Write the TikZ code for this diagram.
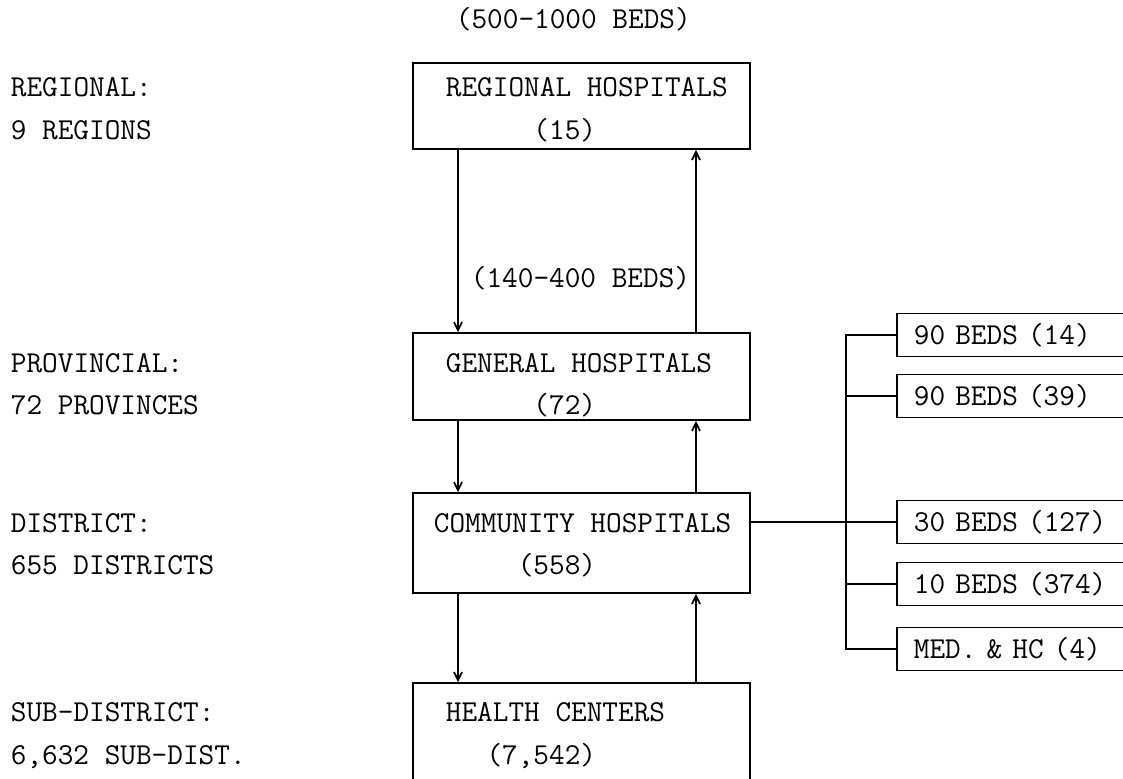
\documentclass[tikz,border=0pt]{standalone}
\usetikzlibrary{arrows.meta}
\begin{document}
\begin{tikzpicture}[x=0.5pt, y=-0.5pt, font=\fontsize{15.2}{18}\ttfamily,
      >={Straight Barb[length=4pt, width=4pt]}, line width=0.9pt,
      box/.style={draw, minimum width=168.5pt, inner sep=0pt},
      bed/.style={draw, anchor=west, minimum height=21.5pt, text width=110pt,
                  inner xsep=8.5pt, inner ysep=0pt, align=left},
      lft/.style={anchor=base west, inner sep=0pt},
      rgt/.style={anchor=base east, inner sep=0pt}]
    \useasboundingbox (0,0) rectangle (1123,778);
    \coordinate (dn) at (458,0); \coordinate (up) at (696,0); \coordinate (bus) at (846,0);
    % levels on the left
    \node[lft] (lreg) at (10,96) {REGIONAL:};
    \node[lft] (nreg) at (10,139) {9 REGIONS};
    \node[lft] (lprov) at (10,372) {PROVINCIAL:};
    \node[lft] (nprov) at (10,414) {72 PROVINCES};
    \node[lft] (ldist) at (10,532) {DISTRICT:};
    \node[lft] (ndist) at (10,574) {655 DISTRICTS};
    \node[lft] (lsub) at (10,721) {SUB-DISTRICT:};
    \node[lft] (nsub) at (10,764) {6,632 SUB-DIST.};
    % hospital chain
    \node[box, minimum height=43pt] (reg) at (581.5,106) {};
    \node[box, minimum height=43.5pt] (gen) at (581.5,376.5) {};
    \node[box, minimum height=50pt] (com) at (581.5,543) {};
    \node[box, minimum height=68.5pt] (hc) at (581.5,751.5) {};
    \node[lft] (bedsreg) at (455,28) {(500-1000 BEDS)};
    \node[lft] (treg) at (445,96) {REGIONAL HOSPITALS};
    \node[rgt] (creg) at (597,139) {(15)};
    \node[lft] (bedsgen) at (470,287) {(140-400 BEDS)};
    \node[lft] (tgen) at (445,372) {GENERAL HOSPITALS};
    \node[rgt] (cgen) at (597,414) {(72)};
    \node[lft] (tcom) at (433,532) {COMMUNITY HOSPITALS};
    \node[rgt] (ccom) at (597,574) {(558)};
    \node[lft] (thc) at (445,721) {HEALTH CENTERS};
    \node[rgt] (chc) at (597,764) {(7,542)};
    \draw[->] (reg.south -| dn) -- (gen.north -| dn); \draw[->] (gen.north -| up) -- (reg.south -| up);
    \draw[->] (gen.south -| dn) -- (com.north -| dn); \draw[->] (com.north -| up) -- (gen.south -| up);
    \draw[->] (com.south -| dn) -- (hc.north -| dn); \draw[->] (hc.north -| up) -- (com.south -| up);
    % community hospitals by size
    \node[bed] (b90a) at (896,335) {90 BEDS (14)};
    \node[bed] (b90b) at (896,396) {90 BEDS (39)};
    \node[bed] (b30) at (896,522) {30 BEDS (127)};
    \node[bed] (b10) at (896,584) {10 BEDS (374)};
    \node[bed] (bmed) at (896,649) {MED. \& HC (4)};
    \draw (b90a.west) -- (b90a.west -| bus) -- (bmed.west -| bus) -- (bmed.west);
    \draw (b90b.west) -- (b90b.west -| bus); \draw (b10.west) -- (b10.west -| bus);
    \draw (com.east |- b30.west) -- (b30.west);
\end{tikzpicture}
\end{document}
